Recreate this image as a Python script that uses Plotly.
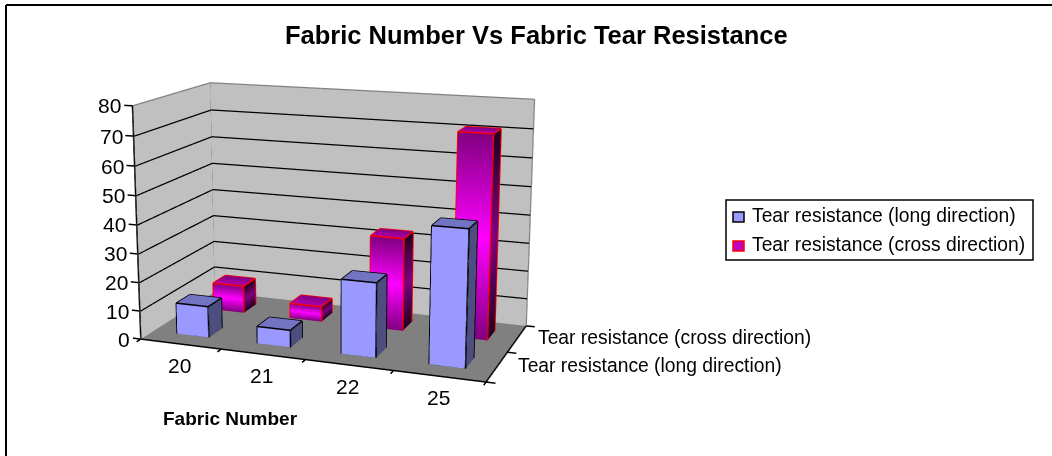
import plotly.graph_objects as go

categories = ["20", "21", "22", "25"]
series_names = ["Tear resistance (long direction)", "Tear resistance (cross direction)"]
long_values = [11, 6, 25.5, 46]
cross_values = [10, 5.5, 33, 71]
z_ticks = [0, 10, 20, 30, 40, 50, 60, 70, 80]

# The original is an Excel 3-D chart, seen through a long lens. Plotly's scene has a fixed 45 degree
# field of view, so the scene is made taller than the window to get the same perspective.
FH, OFF, SX = 1102, 326, 330.0
A_Y, A_Z = 0.4949, 0.6659
EYE = dict(x=1.2371, y=-3.4263, z=0.8800)
CENTER = dict(x=-0.0122, y=-0.0206, z=-0.0111)

XP, YP, ZP = 0.15, 0.15, 3.0
n = len(categories)
EPS = 0.01


def px(v):
    return v / 1052


def py(v):
    return 1 - (v + OFF) / FH


def lines(segs, color, width):
    xs, ys, zs = [], [], []
    for s, e in segs:
        xs += [s[0], e[0], None]
        ys += [s[1], e[1], None]
        zs += [s[2], e[2], None]
    return go.Scatter3d(x=xs, y=ys, z=zs, mode="lines", line=dict(color=color, width=width),
                        showlegend=False, hoverinfo="skip")


def quad_mesh(quads, name):
    X, Y, Z, C, I, J, K = [], [], [], [], [], [], []
    for verts in quads:
        base = len(X)
        for (x, y, z, col) in verts:
            X.append(x); Y.append(y); Z.append(z); C.append(col)
        I += [base, base]
        J += [base + 1, base + 2]
        K += [base + 2, base + 3]
    return go.Mesh3d(x=X, y=Y, z=Z, i=I, j=J, k=K, vertexcolor=C, name=name, flatshading=True,
                     lighting=dict(ambient=1, diffuse=0, specular=0, fresnel=0, roughness=1),
                     hoverinfo="skip", showscale=False)


def bar(x0, x1, y0, y1, v, grad):
    q = []
    levels = len(grad["front"])
    zs = [v * t / (levels - 1) for t in range(levels)]
    for t in range(levels - 1):
        q.append([(x0, y0, zs[t], grad["front"][t]), (x1, y0, zs[t], grad["front"][t]),
                  (x1, y0, zs[t + 1], grad["front"][t + 1]), (x0, y0, zs[t + 1], grad["front"][t + 1])])
        q.append([(x1, y0, zs[t], grad["side"][t]), (x1, y1, zs[t], grad["side"][t]),
                  (x1, y1, zs[t + 1], grad["side"][t + 1]), (x1, y0, zs[t + 1], grad["side"][t + 1])])
    q.append([(x0, y0, v, grad["top"][0]), (x1, y0, v, grad["top"][0]),
              (x1, y1, v, grad["top"][1]), (x0, y1, v, grad["top"][1])])
    seg = [((x0, y0, 0), (x1, y0, 0)), ((x1, y0, 0), (x1, y1, 0)), ((x0, y0, 0), (x0, y0, v)),
           ((x1, y0, 0), (x1, y0, v)), ((x1, y1, 0), (x1, y1, v)), ((x0, y0, v), (x1, y0, v)),
           ((x1, y0, v), (x1, y1, v)), ((x1, y1, v), (x0, y1, v)), ((x0, y1, v), (x0, y0, v))]
    return q, seg


BLUE = dict(front=["#9999ff", "#9999ff"], side=["#4d4d80", "#4d4d80"], top=["#7373c4", "#7373c4"])
MAG = dict(front=["#800080", "#ff00ff", "#800080"], side=["#200020", "#800080", "#200020"],
           top=["#b000b0", "#800080"])

fig = go.Figure()
W, G = "#c0c0c0", "#808080"
fig.add_trace(quad_mesh([
    [(0, 0, 0, G), (n, 0, 0, G), (n, 2, 0, G), (0, 2, 0, G)],
    [(0, 2, 0, W), (n, 2, 0, W), (n, 2, 80, W), (0, 2, 80, W)],
    [(0, 0, 0, W), (0, 2, 0, W), (0, 2, 80, W), (0, 0, 80, W)],
], "walls"))
grid = []
for v in z_ticks[1:-1]:
    grid += [((EPS, 0, v), (EPS, 2 - EPS, v)), ((EPS, 2 - EPS, v), (n, 2 - EPS, v))]
fig.add_trace(lines(grid, "#000000", 2.5))
fig.add_trace(lines([((0, 0, 80), (0, 2, 80)), ((0, 2, 80), (n, 2, 80)), ((n, 2, 80), (n, 2, 0)),
                     ((0, 2, 0), (0, 2, 80))], "#808080", 2.5))
axes = [((0, 0, 0), (0, 0, 80)), ((0, 0, 0), (n, 0, 0)), ((n, 0, 0), (n, 2, 0))]
axes += [((0, 0, v), (-0.1, 0, v)) for v in z_ticks]
axes += [((i, 0, 0), (i, -0.1, 0)) for i in range(n + 1)]
axes += [((n, j, 0), (n + 0.1, j, 0)) for j in range(3)]
fig.add_trace(lines(axes, "#000000", 3))

BW, BD = 0.40, 0.36
for idx, (vals, grad, edge) in enumerate([(long_values, BLUE, "#000000"), (cross_values, MAG, "#ff0000")]):
    quads, segs = [], []
    for i, v in enumerate(vals):
        q, s = bar(i + .5 - BW / 2, i + .5 + BW / 2, idx + .5 - BD / 2, idx + .5 + BD / 2, v, grad)
        quads += q
        segs += s
    fig.add_trace(quad_mesh(quads, series_names[idx]))
    fig.add_trace(lines(segs, edge, 3))

anns = []
for v in z_ticks:
    anns.append(dict(x=0, y=0, z=v, text=str(v), showarrow=False, xanchor="right", xshift=-9,
                     font=dict(size=21, color="#000")))
for i, cat in enumerate(categories):
    anns.append(dict(x=i + .5, y=0, z=0, text=cat, showarrow=False, yshift=-21, xshift=-1,
                     font=dict(size=21, color="#000")))
for j, nm in enumerate(series_names):
    anns.append(dict(x=n, y=j + .5, z=0, text=nm, showarrow=False, xanchor="left", xshift=19, yshift=1,
                     font=dict(size=19.3, color="#000")))

ax = dict(visible=False, showgrid=False, showbackground=False, showspikes=False, zeroline=False)
fig.update_layout(
    width=1052, height=FH, margin=dict(l=0, r=0, t=0, b=0), paper_bgcolor="#fff",
    font=dict(family="Liberation Sans", color="#000"), showlegend=False, hovermode=False,
    scene=dict(
        domain=dict(x=[0, 2 * SX / 1052], y=[0, 1]),
        xaxis=dict(ax, range=[-XP, n + XP]), yaxis=dict(ax, range=[-YP, 2 + YP]), zaxis=dict(ax, range=[-ZP, 80 + ZP]),
        aspectmode="manual",
        aspectratio=dict(x=(n + 2 * XP) / n, y=A_Y * (2 + 2 * YP) / 2, z=A_Z * (80 + 2 * ZP) / 80),
        camera=dict(eye=EYE, center=CENTER, up=dict(x=0, y=0, z=1), projection=dict(type="perspective")),
        annotations=anns,
    ),
    shapes=[
        dict(type="line", xref="paper", yref="paper", x0=px(6), x1=px(6), y0=py(456), y1=py(5),
             line=dict(color="#000", width=2), layer="above"),
        dict(type="line", xref="paper", yref="paper", x0=px(6), x1=1, y0=py(5), y1=py(5),
             line=dict(color="#000", width=2), layer="above"),
        dict(type="rect", xref="paper", yref="paper", x0=px(726), x1=px(1033), y0=py(260), y1=py(200),
             line=dict(color="#000", width=1.5)),
        dict(type="rect", xref="paper", yref="paper", x0=px(733), x1=px(744), y0=py(222), y1=py(212),
             fillcolor="#9999ff", line=dict(color="#000", width=1.5)),
        dict(type="rect", xref="paper", yref="paper", x0=px(733), x1=px(744), y0=py(251), y1=py(241),
             fillcolor="#c000c0", line=dict(color="#f00", width=1.5)),
    ],
    annotations=[
        dict(text="<b>Fabric Number Vs Fabric Tear Resistance</b>", xref="paper", yref="paper", x=px(536), y=py(35),
             xanchor="center", yanchor="middle", showarrow=False, font=dict(size=25.5)),
        dict(text="<b>Fabric Number</b>", xref="paper", yref="paper", x=px(230), y=py(418),
             xanchor="center", yanchor="middle", showarrow=False, font=dict(size=19)),
        dict(text=series_names[0], xref="paper", yref="paper", x=px(750), y=py(215), xanchor="left",
             yanchor="middle", showarrow=False, font=dict(size=19.3)),
        dict(text=series_names[1], xref="paper", yref="paper", x=px(750), y=py(244), xanchor="left",
             yanchor="middle", showarrow=False, font=dict(size=19.3)),
    ],
)
page_js = (
    "document.documentElement.style.overflow='hidden';document.body.style.overflow='hidden';"
    "document.body.style.margin='0';document.body.style.height='456px';"
    f"document.getElementById('{{plot_id}}').style.marginTop='-{OFF}px';"
)
fig.write_html("out.html", post_script=page_js, config=dict(displayModeBar=False))
